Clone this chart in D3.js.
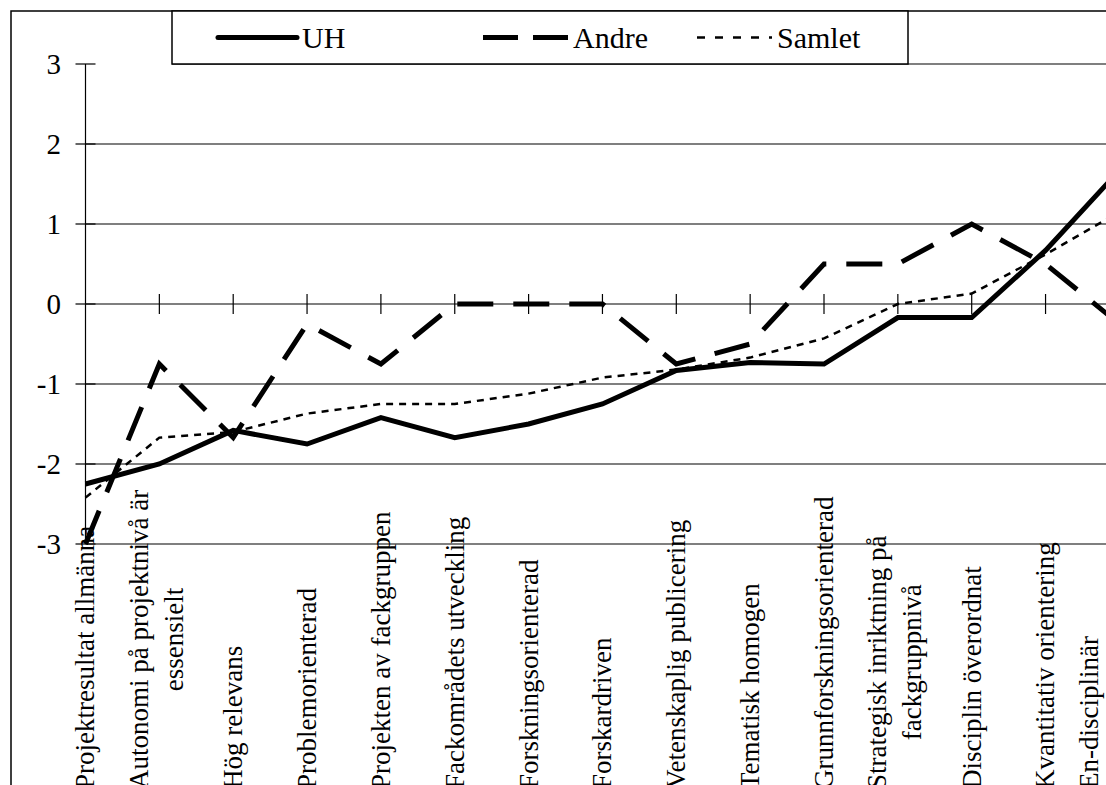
<!DOCTYPE html>
<html>
<head>
<meta charset="utf-8">
<style>
  body { margin: 0; background: #fff; }
  svg { display: block; background: #fff; }
  text { font-family: "Liberation Serif", "Times New Roman", serif; fill: #000; }
  .grid line { stroke: #000; stroke-width: 1.2; }
  .frame { fill: none; stroke: #000; stroke-width: 1.5; }
  .series { fill: none; stroke: #000; }
</style>
<script src="https://d3js.org/d3.v7.min.js"></script>
</head>
<body>
<svg id="chart"></svg>
<script>
  // category labels, "\n" = line break in the label
  const categories = [
    "Projektresultat allmänna",
    "Autonomi på projektnivå är\nessensielt",
    "Hög relevans",
    "Problemorienterad",
    "Projekten av fackgruppen",
    "Fackområdets utveckling",
    "Forskningsorienterad",
    "Forskardriven",
    "Vetenskaplig publicering",
    "Tematisk homogen",
    "Grunnforskningsorienterad",
    "Strategisk inriktning på\nfackgruppnivå",
    "Disciplin överordnat",
    "Kvantitativ orientering",
    "En-disciplinär"
  ];
  const uh     = [-2.25, -2.0, -1.58, -1.75, -1.42, -1.67, -1.5, -1.25, -0.83, -0.73, -0.75, -0.17, -0.17, 0.67, 1.67];
  const andre  = [-3.0, -0.75, -1.67, -0.25, -0.75, 0, 0, 0, -0.75, -0.5, 0.5, 0.5, 1.0, 0.5, -0.25];
  const samlet = [-2.42, -1.67, -1.6, -1.37, -1.25, -1.25, -1.12, -0.92, -0.82, -0.67, -0.43, 0, 0.13, 0.62, 1.15];
  const seriesNames = ["UH", "Andre", "Samlet"];
  const yTicks = [-3, -2, -1, 0, 1, 2, 3];

  const width = 1106, height = 785;
  const svg = d3.select("#chart").attr("width", width).attr("height", height);

  // plot runs past the right edge (the original is cropped there)
  const x = d3.scalePoint()
    .domain(d3.range(categories.length))
    .range([85.5, 85.5 + 73.85 * (categories.length - 1)]);
  const y = d3.scaleLinear().domain([-3, 3]).range([544, 64]);

  const legendBox = { x: 172, y: 11, w: 736, h: 53 };

  // gridlines (top one is hidden left of the legend box)
  svg.append("g").attr("class", "grid")
    .selectAll("line")
    .data(yTicks)
    .join("line")
    .attr("x1", d => d === 3 ? legendBox.x : x(0))
    .attr("x2", width)
    .attr("y1", d => y(d))
    .attr("y2", d => y(d));

  // y axis
  const yAxis = svg.append("g").attr("class", "grid");
  yAxis.append("line")
    .attr("x1", x(0)).attr("x2", x(0))
    .attr("y1", y(-3)).attr("y2", y(3));
  yAxis.selectAll(".tick")
    .data(yTicks)
    .join("line")
    .attr("class", "tick")
    .attr("x1", x(0) - 10).attr("x2", x(0) + 10)
    .attr("y1", d => y(d)).attr("y2", d => y(d));
  svg.append("g")
    .selectAll("text")
    .data(yTicks)
    .join("text")
    .attr("x", 61)
    .attr("y", d => y(d))
    .attr("dy", "0.35em")
    .attr("text-anchor", "end")
    .attr("font-size", 29)
    .text(d => d);

  // category axis sits on the zero line
  svg.append("g").attr("class", "grid")
    .selectAll("line")
    .data(d3.range(1, categories.length))
    .join("line")
    .attr("x1", d => x(d)).attr("x2", d => x(d))
    .attr("y1", y(0) - 10).attr("y2", y(0) + 10);

  // rotated category labels
  const labelFont = 27, lineGap = 35, labelBottom = 789;
  const labels = svg.append("g");
  categories.forEach((cat, i) => {
    const lines = cat.split("\n");
    const cx = Math.min(x(i), width - 17) - (lines.length > 1 ? 3 : 0);
    const g = labels.append("g");
    const texts = lines.map(t =>
      g.append("text")
        .attr("text-anchor", "middle")
        .attr("font-size", labelFont)
        .text(t));
    const maxLen = d3.max(texts, t => t.node().getComputedTextLength());
    texts.forEach((t, k) => {
      const bx = cx + labelFont * 0.33 + (k - (lines.length - 1) / 2) * lineGap;
      t.attr("transform", `translate(${bx},${labelBottom - maxLen / 2}) rotate(-90)`);
    });
  });

  // series
  const line = d3.line().x((d, i) => x(i)).y(d => y(d));
  const styles = [
    { w: 5, dash: null },
    { w: 5, dash: "36,20" },
    { w: 2.5, dash: "7,6" }
  ];
  [uh, andre, samlet].forEach((vals, s) => {
    svg.append("path")
      .datum(vals)
      .attr("class", "series")
      .attr("d", line)
      .attr("stroke-width", styles[s].w)
      .attr("stroke-dasharray", styles[s].dash);
  });

  // outer frame (cropped on the right and bottom)
  svg.append("path")
    .attr("class", "frame")
    .attr("d", `M11,${height} V11 H${width}`);

  // legend
  const lg = svg.append("g");
  lg.append("rect")
    .attr("x", legendBox.x).attr("y", legendBox.y)
    .attr("width", legendBox.w).attr("height", legendBox.h)
    .attr("fill", "#fff").attr("stroke", "#000").attr("stroke-width", 1.5);
  const legendX = [218, 483, 697];
  const legendY = 37.5;
  const sampleLen = [79, 85, 75];
  seriesNames.forEach((name, s) => {
    lg.append("line")
      .attr("x1", legendX[s]).attr("x2", legendX[s] + sampleLen[s])
      .attr("y1", legendY).attr("y2", legendY)
      .attr("stroke", "#000")
      .attr("stroke-width", styles[s].w)
      .attr("stroke-linecap", s === 0 ? "round" : "butt")
      .attr("stroke-dasharray", s === 1 ? "35,15" : s === 2 ? "8,10" : null);
    lg.append("text")
      .attr("x", legendX[s] + sampleLen[s] + 5)
      .attr("y", legendY)
      .attr("dy", "0.36em")
      .attr("font-size", 30)
      .text(name);
  });
</script>
</body>
</html>
